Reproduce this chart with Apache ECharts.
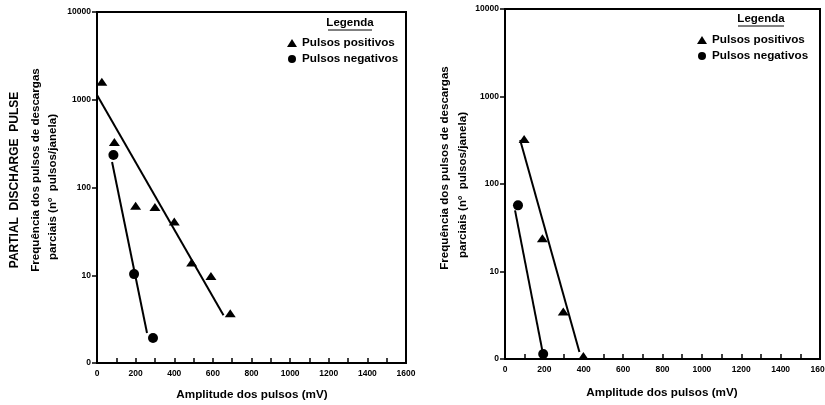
<!DOCTYPE html>
<html><head><meta charset="utf-8">
<script src="https://cdn.jsdelivr.net/npm/echarts@6/dist/echarts.min.js"></script>
<style>html,body{margin:0;padding:0;background:#fff}#c{width:825px;height:405px}</style>
</head><body><div id="c"></div>
<script>
// Left chart data
var posX1 = [25, 90, 200, 300, 400, 490, 590, 690];
var posY1 = [1600, 330, 62, 60, 41, 14, 9.8, 3.7];
var negX1 = [85, 192, 290];
var negY1 = [235, 10.3, 1.93];
var posFitX1 = [0, 655], posFitY1 = [1130, 3.5];
var negFitX1 = [78, 259], negFitY1 = [195, 2.2];
// Right chart data
var posX2 = [97, 190, 296, 398];
var posY2 = [327, 24, 3.5, 1.08];
var negX2 = [66, 194];
var negY2 = [57, 1.14];
var posFitX2 = [77, 378], posFitY2 = [318, 1.2];
var negFitX2 = [51, 189], negFitY2 = [50, 1.27];
// Axis labels
var xMin = 0, xMax = 1600, xStep = 100, xLabelStep = 200;
var yMin = 1, yMax = 10000;
var yTitle1 = 'Frequência dos pulsos de descargas';
var yTitle2 = 'parciais (nº  pulsos/janela)';
var xTitle = 'Amplitude dos pulsos (mV)';
var sideTitle = 'PARTIAL  DISCHARGE  PULSE';
var legendTitle = 'Legenda';
var seriesNames = ['Pulsos positivos', 'Pulsos negativos'];

function zip(a, b) { return a.map(function (v, i) { return [v, b[i]]; }); }
var FONT = 'Liberation Sans, Arial, sans-serif';

function xAxis(gi) {
  return {
    type: 'value', gridIndex: gi, min: xMin, max: xMax, interval: xStep,
    axisLine: { lineStyle: { color: '#000', width: 2 } },
    axisTick: { inside: true, length: 5, lineStyle: { color: '#000', width: 1.5 } },
    axisLabel: { color: '#000', fontSize: 8.5, fontWeight: 'bold', fontFamily: FONT, margin: 6,
      formatter: function (v) { return v % xLabelStep === 0 ? String(v) : ''; } },
    splitLine: { show: false }
  };
}
function yAxis(gi) {
  return {
    type: 'log', logBase: 10, gridIndex: gi, min: yMin, max: yMax,
    axisLine: { lineStyle: { color: '#000', width: 2 } },
    axisTick: { inside: false, length: 5, lineStyle: { color: '#000', width: 1.5 } },
    axisLabel: { color: '#000', fontSize: 8.5, fontWeight: 'bold', fontFamily: FONT, margin: 6,
      formatter: function (v) { return v <= 1 ? '0' : String(Math.round(v)); } },
    splitLine: { show: false }
  };
}
function scatter(name, gi, data, sym, size) {
  return { name: name, type: 'scatter', xAxisIndex: gi, yAxisIndex: gi, data: data,
    symbol: sym, symbolSize: size, itemStyle: { color: '#000', opacity: 1 }, z: 3 };
}
function fit(gi, data) {
  return { type: 'line', xAxisIndex: gi, yAxisIndex: gi, data: data, symbol: 'none',
    lineStyle: { color: '#000', width: 2 }, silent: true, z: 2 };
}
function vtext(x, y, txt, size) {
  var s = { text: txt, fill: '#000', font: 'bold ' + size + 'px ' + FONT, textAlign: 'center', textVerticalAlign: 'middle' };
  return { type: 'text', x: x, y: y, rotation: Math.PI / 2, style: s, silent: true };
}
function htext(x, y, txt, size) {
  return { type: 'text', x: x, y: y, style: { text: txt, fill: '#000', font: 'bold ' + size + 'px ' + FONT, textAlign: 'center', textVerticalAlign: 'middle' }, silent: true };
}
function uline(x1, x2, y) {
  return { type: 'line', shape: { x1: x1, y1: y, x2: x2, y2: y }, style: { stroke: '#000', lineWidth: 1 }, silent: true };
}

var chart = echarts.init(document.getElementById('c'), null, { renderer: 'canvas' });
var lg1 = { data: [{ name: seriesNames[0], icon: 'triangle' }, { name: seriesNames[1], icon: 'circle' }],
  orient: 'vertical', left: 287, top: 37, padding: 0, itemWidth: 10, itemHeight: 8, itemGap: 4,
  textStyle: { color: '#000', fontSize: 11.7, fontWeight: 'bold', fontFamily: FONT }, selectedMode: false };
var lg2 = JSON.parse(JSON.stringify(lg1)); lg2.left = 697; lg2.top = 34;
chart.setOption({
  animation: false,
  grid: [
    { left: 97, top: 12, width: 309, height: 351, show: true, borderColor: '#000', borderWidth: 2, backgroundColor: 'transparent', outerBoundsMode: 'none', containLabel: false },
    { left: 505, top: 9, width: 315, height: 350, show: true, borderColor: '#000', borderWidth: 2, backgroundColor: 'transparent', outerBoundsMode: 'none', containLabel: false }
  ],
  xAxis: [xAxis(0), xAxis(1)],
  yAxis: [yAxis(0), yAxis(1)],
  legend: [lg1, lg2],
  series: [
    scatter(seriesNames[0], 0, zip(posX1, posY1), 'triangle', [11, 8]),
    scatter(seriesNames[1], 0, zip(negX1, negY1), 'circle', 10),
    fit(0, zip(posFitX1, posFitY1)),
    fit(0, zip(negFitX1, negFitY1)),
    scatter(seriesNames[0], 1, zip(posX2, posY2), 'triangle', [11, 8]),
    scatter(seriesNames[1], 1, zip(negX2, negY2), 'circle', 10),
    fit(1, zip(posFitX2, posFitY2)),
    fit(1, zip(negFitX2, negFitY2))
  ],
  graphic: [
    vtext(15, 180, sideTitle, 12),
    vtext(36, 170, yTitle1, 11.6),
    vtext(53, 187, yTitle2, 11.6),
    vtext(445, 168, yTitle1, 11.6),
    vtext(463, 185, yTitle2, 11.6),
    htext(252, 395, xTitle, 11.7),
    htext(662, 393, xTitle, 11.7),
    htext(350, 23, legendTitle, 11.5),
    uline(328, 372, 30),
    htext(761, 19, legendTitle, 11.5),
    uline(738, 784, 26)
  ]
});
</script></body></html>
